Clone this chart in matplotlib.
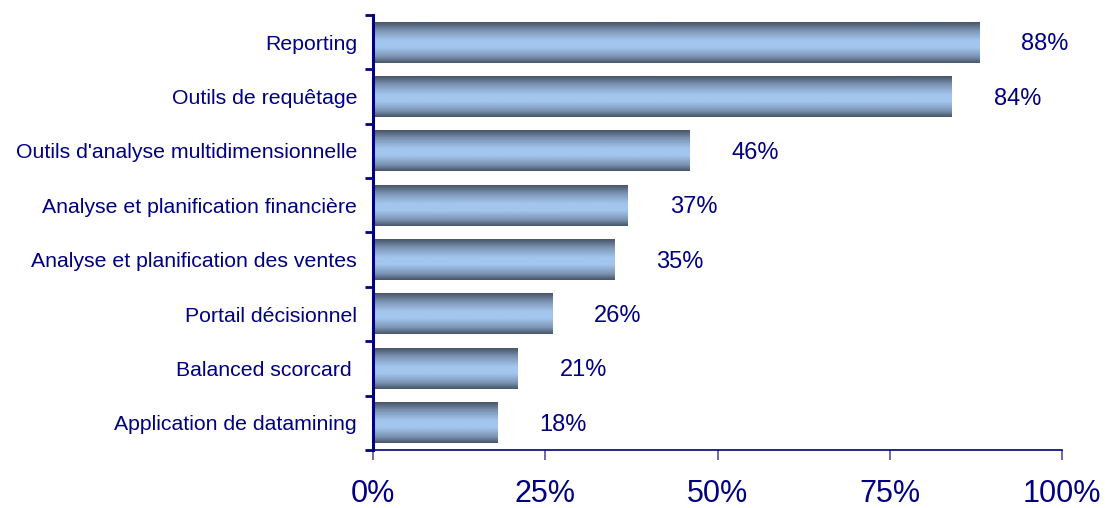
import numpy as np
import matplotlib as mpl
mpl.use('Agg')
import matplotlib.pyplot as plt
from matplotlib.colors import LinearSegmentedColormap

categories = ["Reporting", "Outils de requêtage", "Outils d'analyse multidimensionnelle",
              "Analyse et planification financière", "Analyse et planification des ventes",
              "Portail décisionnel", "Balanced scorcard ", "Application de datamining"]
values = [88, 84, 46, 37, 35, 26, 21, 18]
xticks = [0, 25, 50, 75, 100]

NAVY = '#000080'
plt.rcParams['font.family'] = ['Liberation Sans', 'DejaVu Sans']

fig = plt.figure(figsize=(11.05, 5.08), dpi=100)
ax = fig.add_axes([0.3376, 0.1142, 0.6235, 0.8563])

# vertical gradient: dark edges, light blue core
cmap = LinearSegmentedColormap.from_list('bar', [
    (0, '#485668'), (0.2, '#7c94b4'), (0.45, '#a3c6ee'),
    (0.62, '#a3c6ee'), (0.85, '#7c94b4'), (1, '#485668')])
grad = np.linspace(0, 1, 64).reshape(-1, 1)

n = len(categories)
h = 0.75
for i, v in enumerate(values):
    y = n - 1 - i
    ax.imshow(grad, cmap=cmap, aspect='auto', extent=(0, v, y - h/2, y + h/2),
              interpolation='bicubic', zorder=2)
    ax.annotate(f"{v}%", (v, y), xytext=(42, -2), textcoords='offset pixels',
                va='center', ha='left', color=NAVY, fontsize=17)

ax.set_xlim(0, 100)
ax.set_ylim(-0.5, n - 0.5)
ax.set_yticks(range(n))
ax.set_yticklabels(categories[::-1], fontsize=15.3, color=NAVY)
ax.set_yticks(np.arange(-0.5, n, 1), minor=True)
ax.tick_params(axis='y', which='major', length=0, pad=11.5)
ax.tick_params(axis='y', which='minor', length=6, width=2, color=NAVY, direction='out')

ax.set_xticks(xticks)
ax.set_xticklabels([f"{t}%" for t in xticks], fontsize=22, color=NAVY)
ax.tick_params(axis='x', length=7, width=1.2, color='#5050a0', pad=14)

for s in ['top', 'right']:
    ax.spines[s].set_visible(False)
ax.spines['left'].set_color(NAVY)
ax.spines['left'].set_linewidth(2.2)
ax.spines['bottom'].set_color(NAVY)
ax.spines['bottom'].set_linewidth(1.2)

fig.savefig("out.png", dpi=100)
